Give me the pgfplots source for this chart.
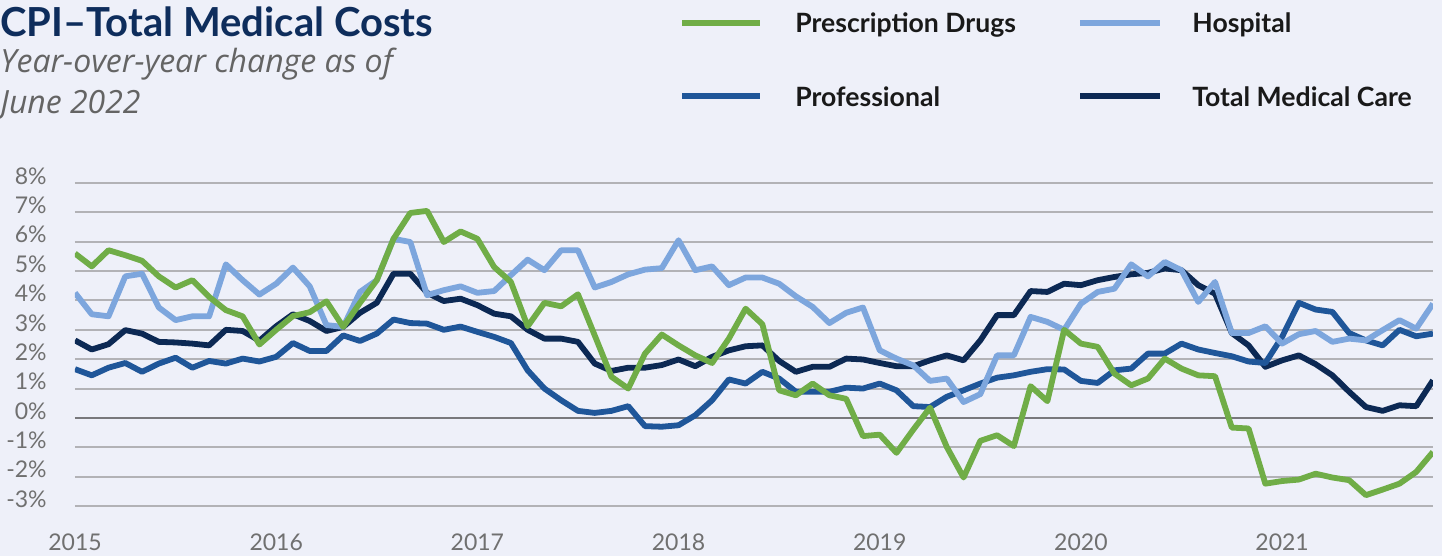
\documentclass[border=0pt]{standalone}
\usepackage{fontspec}
\setmainfont{Lato}
\newfontfamily\subfont{Open Sans}
\usepackage{pgfplots}
\usepackage{pgfplotstable}
\pgfplotsset{compat=1.18}

\definecolor{bgc}{RGB}{238,240,249}
\definecolor{rxc}{RGB}{112,173,71}
\definecolor{hospc}{RGB}{125,166,221}
\definecolor{profc}{RGB}{31,86,153}
\definecolor{totc}{RGB}{12,41,84}
\definecolor{titlec}{RGB}{14,45,92}
\definecolor{subc}{RGB}{100,100,100}
\definecolor{tickc}{RGB}{112,112,112}
\definecolor{gridc}{RGB}{178,178,182}
\definecolor{zeroc}{RGB}{120,120,124}

% month index from Jan 2015, year-over-year change in %
\pgfplotstableread{
m  rx     hosp  prof   tot
0  5.60   4.26  1.66   2.64
1  5.16   3.53  1.45   2.33
2  5.71   3.46  1.71   2.51
3  5.54   4.82  1.87   2.99
4  5.35   4.91  1.57   2.87
5  4.82   3.76  1.85   2.59
6  4.44   3.33  2.05   2.57
7  4.69   3.46  1.71   2.53
8  4.12   3.46  1.94   2.47
9  3.67   5.23  1.85   3.00
10 3.46   4.69  2.02   2.96
11 2.50   4.20  1.92   2.63
12 3.00   4.57  2.08   3.12
13 3.47   5.12  2.55   3.53
14 3.60   4.48  2.28   3.30
15 3.97   3.16  2.28   2.96
16 3.10   3.10  2.81   3.10
17 3.92   4.29  2.62   3.58
18 4.69   4.69  2.87   3.92
19 6.10   6.10  3.35   4.91
20 6.98   5.99  3.23   4.91
21 7.05   4.18  3.21   4.26
22 5.99   4.35  3.00   3.98
23 6.35   4.48  3.11   4.06
24 6.10   4.26  2.93   3.84
25 5.14   4.32  2.76   3.55
26 4.63   4.86  2.55   3.46
27 3.12   5.39  1.62   3.00
28 3.92   5.03  1.00   2.70
29 3.80   5.71  0.60   2.70
30 4.21   5.71  0.24   2.59
31 2.81   4.44  0.17   1.85
32 1.40   4.63  0.24   1.60
33 1.00   4.89  0.40   1.71
34 2.19   5.05  -0.28  1.71
35 2.84   5.10  -0.30  1.80
36 2.47   6.05  -0.25  1.99
37 2.13   5.03  0.09   1.76
38 1.87   5.16  0.60   2.08
39 2.70   4.52  1.31   2.30
40 3.72   4.78  1.17   2.44
41 3.19   4.78  1.57   2.47
42 0.94   4.57  1.34   1.94
43 0.77   4.14  0.89   1.57
44 1.17   3.78  0.89   1.74
45 0.77   3.23  0.89   1.74
46 0.65   3.58  1.03   2.02
47 -0.62  3.76  1.00   1.99
48 -0.57  2.30  1.17   1.87
49 -1.19  2.02  0.94   1.76
50 -0.40  1.79  0.40   1.76
51 0.35   1.26  0.37   1.96
52 -0.99  1.34  0.72   2.13
53 -2.03  0.54  0.94   1.96
54 -0.78  0.81  1.17   2.64
55 -0.59  2.13  1.37   3.50
56 -0.96  2.13  1.45   3.50
57 1.08   3.44  1.57   4.32
58 0.57   3.27  1.66   4.29
59 3.00   3.00  1.65   4.57
60 2.53   3.89  1.26   4.52
61 2.42   4.29  1.19   4.69
62 1.51   4.40  1.62   4.80
63 1.11   5.23  1.68   4.89
64 1.34   4.82  2.19   4.94
65 2.02   5.31  2.19   5.09
66 1.68   5.03  2.53   5.03
67 1.45   3.95  2.33   4.52
68 1.42   4.63  2.21   4.23
69 -0.33  2.89  2.10   2.89
70 -0.36  2.89  1.92   2.47
71 -2.24  3.12  1.87   1.74
72 -2.15  2.53  2.76   1.96
73 -2.10  2.85  3.92   2.13
74 -1.90  2.96  3.69   1.83
75 -2.03  2.59  3.61   1.45
76 -2.12  2.70  2.89   0.89
77 -2.63  2.64  2.64   0.37
78 -2.44  2.99  2.47   0.24
79 -2.24  3.33  3.00   0.43
80 -1.84  3.04  2.78   0.40
81 -1.16  3.89  2.87   1.28
}\cpidata

\begin{document}
\begin{tikzpicture}
\path[use as bounding box] (0,0) rectangle (721pt,-278pt);
\fill[bgc] (0,0) rectangle (721pt,-278pt);

\begin{scope}[x=0.5pt,y=-0.5pt]
  % title block
  \node[anchor=base west, inner sep=0pt, text=titlec] at (0,37)
    {\fontsize{20}{22}\selectfont\bfseries CPI–Total Medical Costs};
  \node[anchor=base west, inner sep=0pt, text=subc] at (0,73)
    {\fontsize{16}{18}\selectfont\subfont\itshape Year-over-year change as of};
  \node[anchor=base west, inner sep=0pt, text=subc] at (0,114)
    {\fontsize{16}{18}\selectfont\subfont\itshape June 2022};
  % legend
  \draw[rxc, line width=2.9pt] (682,23) -- (760,23);
  \draw[hospc, line width=2.9pt] (1080,23) -- (1160,23);
  \draw[profc, line width=2.9pt] (682,96) -- (760,96);
  \draw[totc, line width=2.9pt] (1080,96) -- (1160,96);
  \begin{scope}[every node/.style={anchor=base west, inner sep=0pt, font=\fontsize{13.3}{15}\selectfont\bfseries, text=black!90}]
    \node at (795,33) {Prescription Drugs};
    \node at (1192,33) {Hospital};
    \node at (795,106.5) {Professional};
    \node at (1192,106.5) {Total Medical Care};
  \end{scope}
\end{scope}

\begin{axis}[
  at={(37.5pt,-253pt)}, anchor=south west,
  scale only axis, width=679pt, height=161.5pt,
  xmin=0, xmax=81, ymin=-3, ymax=8,
  axis line style={draw=none},
  major tick length=0pt,
  ymajorgrids=true,
  grid style={line width=1pt, color=gridc},
  ytick={-3,-2,...,8},
  yticklabels={-3\%,-2\%,-1\%,0\%,1\%,2\%,3\%,4\%,5\%,6\%,7\%,8\%},
  xtick={0,12,24,36,48,60,72},
  xticklabels={2015,2016,2017,2018,2019,2020,2021},
  yticklabel style={font=\fontsize{11.5}{12}\selectfont, text=tickc, anchor=east, inner sep=0pt, xshift=-14pt, yshift=3.5pt},
  xticklabel style={font=\fontsize{11.5}{12}\selectfont, text=tickc, anchor=north, inner sep=0pt, yshift=-13.5pt},
  every axis plot/.append style={line width=2.9pt, line join=round, no markers},
]
\addplot[forget plot, zeroc, line width=1pt] coordinates {(0,0) (81,0)};
\addplot[totc]  table[x=m, y=tot]  {\cpidata};
\addplot[profc] table[x=m, y=prof] {\cpidata};
\addplot[hospc] table[x=m, y=hosp] {\cpidata};
\addplot[rxc]   table[x=m, y=rx]   {\cpidata};
\end{axis}
\end{tikzpicture}
\end{document}
